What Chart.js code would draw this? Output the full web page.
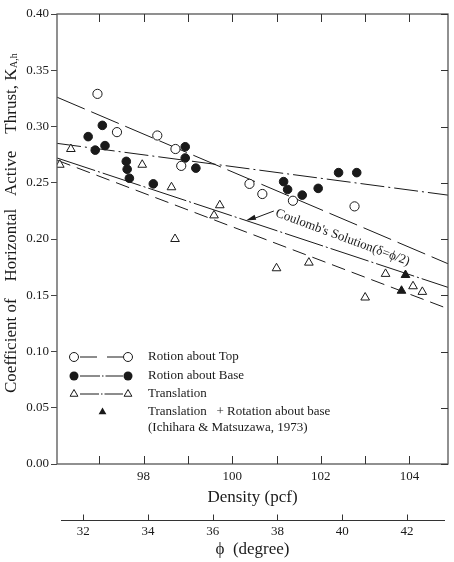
<!DOCTYPE html>
<html>
<head>
<meta charset="utf-8">
<script src="https://cdn.jsdelivr.net/npm/chart.js@4.4.1/dist/chart.umd.min.js"></script>
<style>
    html, body { margin: 0; padding: 0; background: #fff; }
    #wrap { width: 454px; height: 562px; }
</style>
</head>
<body>
<div id="wrap"><canvas id="grafico"></canvas></div>
<script>
// Densidad (pcf) y coeficiente K
const rotTopX = [96.96, 97.40, 98.31, 98.72, 98.85, 100.39, 100.68, 101.37, 102.76];
const rotTopY = [0.329, 0.295, 0.292, 0.280, 0.265, 0.249, 0.240, 0.234, 0.229];

const rotBaseX = [96.75, 96.91, 97.07, 97.13, 97.61, 97.63, 97.68, 98.22, 98.94, 98.94, 99.18, 101.16, 101.25, 101.58, 101.94, 102.40, 102.81];
const rotBaseY = [0.291, 0.279, 0.301, 0.283, 0.269, 0.262, 0.254, 0.249, 0.282, 0.272, 0.263, 0.251, 0.244, 0.239, 0.245, 0.259, 0.259];

const traslX = [96.11, 96.36, 97.97, 98.63, 99.72, 99.59, 98.71, 101.00, 101.73, 103.00, 103.46, 104.08, 104.29];
const traslY = [0.266, 0.280, 0.266, 0.246, 0.230, 0.221, 0.200, 0.174, 0.179, 0.148, 0.169, 0.158, 0.153];

const ichiharaX = [103.91, 103.82];
const ichiharaY = [0.168, 0.154];

// rectas de borde a borde
const rectaX = [96.05, 104.87];
const rectaTop = [0.326, 0.178];
const rectaBase = [0.285, 0.239];
const rectaCoulomb = [0.272, 0.157];
const rectaDiscontinua = [0.270, 0.138];

const densidadTicks = [97, 98, 99, 100, 101, 102, 103, 104];
const phiTicks = [32, 34, 36, 38, 40, 42];
const kTicks = [0, 0.05, 0.10, 0.15, 0.20, 0.25, 0.30, 0.35, 0.40];

const fuente = '"Liberation Serif", "DejaVu Serif", serif';
const tinta = '#1a1a1a';

function puntos(xs, ys) {
    return xs.map((x, i) => ({ x: x, y: ys[i] }));
}

function recta(ys, dash) {
    return {
        data: puntos(rectaX, ys),
        showLine: true,
        borderColor: tinta,
        borderWidth: 1,
        borderDash: dash,
        pointRadius: 0,
        order: 2
    };
}

// marco, marcas hacia adentro, leyenda, anotación y título vertical
const dibujoExtra = {
    id: 'dibujoExtra',
    afterDraw(chart) {
        const { ctx, chartArea: ca, scales } = chart;
        const sx = scales.x, sy = scales.y, s2 = scales.x2;
        ctx.save();

        ctx.strokeStyle = '#555';
        ctx.lineWidth = 1.3;
        ctx.strokeRect(ca.left, ca.top, ca.right - ca.left, ca.bottom - ca.top);

        ctx.strokeStyle = '#333';
        ctx.lineWidth = 1;
        ctx.beginPath();
        densidadTicks.forEach(v => {
            const px = Math.round(sx.getPixelForValue(v)) + 0.5;
            ctx.moveTo(px, ca.bottom); ctx.lineTo(px, ca.bottom - 8);
            ctx.moveTo(px, ca.top); ctx.lineTo(px, ca.top + 8);
        });
        kTicks.forEach(v => {
            const py = Math.round(sy.getPixelForValue(v)) + 0.5;
            ctx.moveTo(ca.right, py); ctx.lineTo(ca.right - 7, py);
        });
        ctx.stroke();

        // eje secundario phi
        const y2 = Math.round(s2.top) + 0.5;
        ctx.beginPath();
        ctx.moveTo(ca.left + 4, y2); ctx.lineTo(ca.right - 3, y2);
        phiTicks.forEach(v => {
            const px = Math.round(s2.getPixelForValue(v)) + 0.5;
            ctx.moveTo(px, y2); ctx.lineTo(px, y2 - 6);
        });
        ctx.stroke();

        // leyenda
        ctx.fillStyle = tinta;
        ctx.strokeStyle = tinta;
        ctx.font = '13px ' + fuente;
        ctx.textBaseline = 'middle';
        ctx.textAlign = 'left';
        const lx1 = 74, lx2 = 128, tx = 148;
        const filas = [357, 376, 394, 412, 428];
        const estilos = [[17, 10], [20, 2, 1.5, 2], [19, 2, 1.5, 2]];
        const marcas = ['circleOpen', 'circle', 'triOpen'];
        const textos = ['Rotion about Top', 'Rotion about Base', 'Translation'];
        for (let i = 0; i < 3; i++) {
            const fy = filas[i];
            ctx.setLineDash(estilos[i]);
            ctx.beginPath();
            ctx.moveTo(lx1 + 6, fy); ctx.lineTo(lx2 - 5, fy);
            ctx.stroke();
            ctx.setLineDash([]);
            marcador(ctx, marcas[i], lx1, fy);
            marcador(ctx, marcas[i], lx2, fy);
            ctx.fillStyle = tinta;
            ctx.fillText(textos[i], tx, fy);
        }
        marcador(ctx, 'tri', 102.5, filas[3]);
        ctx.fillStyle = tinta;
        ctx.fillText('Translation   + Rotation about base', tx, filas[3]);
        ctx.fillText('(Ichihara & Matsuzawa, 1973)', tx, filas[4]);

        // anotación Coulomb
        const pendiente = (rectaCoulomb[1] - rectaCoulomb[0]) / (rectaX[1] - rectaX[0]);
        const puntaX = sx.getPixelForValue(100.31);
        const puntaY = sy.getPixelForValue(rectaCoulomb[0] + pendiente * (100.31 - rectaX[0]));
        const colaX = sx.getPixelForValue(100.94);
        const colaY = sy.getPixelForValue(0.2249);
        ctx.beginPath();
        ctx.moveTo(colaX, colaY); ctx.lineTo(puntaX + 6, puntaY - 1.2);
        ctx.stroke();
        const ang = Math.atan2(puntaY - colaY, puntaX - colaX);
        ctx.beginPath();
        ctx.moveTo(puntaX, puntaY);
        ctx.lineTo(puntaX - 10 * Math.cos(ang) + 2.6 * Math.sin(ang), puntaY - 10 * Math.sin(ang) - 2.6 * Math.cos(ang));
        ctx.lineTo(puntaX - 10 * Math.cos(ang) - 2.6 * Math.sin(ang), puntaY - 10 * Math.sin(ang) + 2.6 * Math.cos(ang));
        ctx.closePath();
        ctx.fill();

        ctx.save();
        ctx.translate(sx.getPixelForValue(100.96), sy.getPixelForValue(0.2204));
        ctx.rotate(20.3 * Math.PI / 180);
        ctx.textBaseline = 'alphabetic';
        ctx.font = '13px ' + fuente;
        ctx.fillText("Coulomb's Solution(δ=ϕ/2)", 0, 0);
        ctx.restore();

        // título del eje y con subíndice
        ctx.save();
        ctx.translate(16, 393);
        ctx.rotate(-Math.PI / 2);
        ctx.textBaseline = 'alphabetic';
        ctx.font = '17px ' + fuente;
        const titulo = 'Coefficient of    Horizontal   Active    Thrust, K';
        ctx.fillText(titulo, 0, 0);
        const ancho = ctx.measureText(titulo).width;
        ctx.font = '10px ' + fuente;
        ctx.fillText('A,h', ancho + 0.5, 1);
        ctx.restore();

        ctx.restore();
    }
};

function marcador(ctx, tipo, x, y) {
    ctx.save();
    ctx.lineWidth = 1;
    ctx.strokeStyle = tinta;
    ctx.beginPath();
    if (tipo === 'circle' || tipo === 'circleOpen') {
        ctx.arc(x, y, 4.5, 0, Math.PI * 2);
    } else {
        const r = 4.5;
        ctx.moveTo(x, y - r);
        ctx.lineTo(x + r * 0.866, y + r * 0.5);
        ctx.lineTo(x - r * 0.866, y + r * 0.5);
        ctx.closePath();
    }
    if (tipo === 'circle' || tipo === 'tri') {
        ctx.fillStyle = tinta;
        ctx.fill();
    } else {
        ctx.fillStyle = '#fff';
        ctx.fill();
        ctx.stroke();
    }
    ctx.restore();
}

const config = {
    type: 'scatter',
    data: {
        datasets: [
            recta(rectaTop, [30, 7]),
            recta(rectaBase, [24, 4, 2, 4]),
            recta(rectaCoulomb, [40, 3, 2, 3]),
            recta(rectaDiscontinua, [14, 7]),
            {
                data: puntos(rotTopX, rotTopY),
                pointStyle: 'circle', pointRadius: 4.6,
                backgroundColor: '#fff', borderColor: tinta, borderWidth: 1, order: 1
            },
            {
                data: puntos(rotBaseX, rotBaseY),
                pointStyle: 'circle', pointRadius: 4.3,
                backgroundColor: tinta, borderColor: tinta, borderWidth: 1, order: 1
            },
            {
                data: puntos(traslX, traslY),
                pointStyle: 'triangle', pointRadius: 5,
                backgroundColor: '#fff', borderColor: tinta, borderWidth: 1, order: 1
            },
            {
                data: puntos(ichiharaX, ichiharaY),
                pointStyle: 'triangle', pointRadius: 5,
                backgroundColor: tinta, borderColor: tinta, borderWidth: 1, order: 1
            }
        ]
    },
    options: {
        responsive: true,
        maintainAspectRatio: false,
        animation: false,
        events: [],
        layout: { padding: { top: 14, right: 4, left: 0, bottom: 0 } },
        plugins: {
            legend: { display: false },
            tooltip: { enabled: false }
        },
        scales: {
            x: {
                type: 'linear',
                position: 'bottom',
                weight: 0,
                min: 96.047,
                max: 104.869,
                afterFit: s => { s.height = 56; },
                afterBuildTicks: s => { s.ticks = densidadTicks.map(v => ({ value: v })); },
                border: { display: false },
                grid: { display: false, drawTicks: false },
                ticks: {
                    autoSkip: false,
                    maxRotation: 0,
                    padding: 5,
                    color: tinta,
                    font: { family: fuente, size: 13 },
                    callback: v => (v % 2 === 0 ? String(v) : '')
                },
                title: {
                    display: true,
                    text: 'Density (pcf)',
                    color: tinta,
                    font: { family: fuente, size: 17 },
                    padding: { top: 0, bottom: 12 }
                }
            },
            x2: {
                type: 'linear',
                position: 'bottom',
                weight: 1,
                min: 31.192,
                max: 43.27,
                afterFit: s => { s.height = 42; },
                afterBuildTicks: s => { s.ticks = phiTicks.map(v => ({ value: v })); },
                border: { display: false },
                grid: { display: false, drawTicks: false },
                ticks: {
                    autoSkip: false,
                    maxRotation: 0,
                    padding: 4,
                    color: tinta,
                    font: { family: fuente, size: 13 },
                    callback: v => String(v)
                },
                title: {
                    display: true,
                    text: 'ϕ  (degree)',
                    color: tinta,
                    font: { family: fuente, size: 17 },
                    padding: { top: 0, bottom: 2 }
                }
            },
            y: {
                type: 'linear',
                min: 0,
                max: 0.40,
                afterFit: s => { s.width = 57; },
                afterBuildTicks: s => { s.ticks = kTicks.map(v => ({ value: v })); },
                border: { display: false },
                grid: { drawOnChartArea: false, drawTicks: true, tickLength: 6, color: '#444' },
                ticks: {
                    padding: 2,
                    color: tinta,
                    font: { family: fuente, size: 13 },
                    callback: v => v.toFixed(2)
                }
            }
        }
    },
    plugins: [dibujoExtra]
};

new Chart(document.getElementById('grafico').getContext('2d'), config);
</script>
</body>
</html>
